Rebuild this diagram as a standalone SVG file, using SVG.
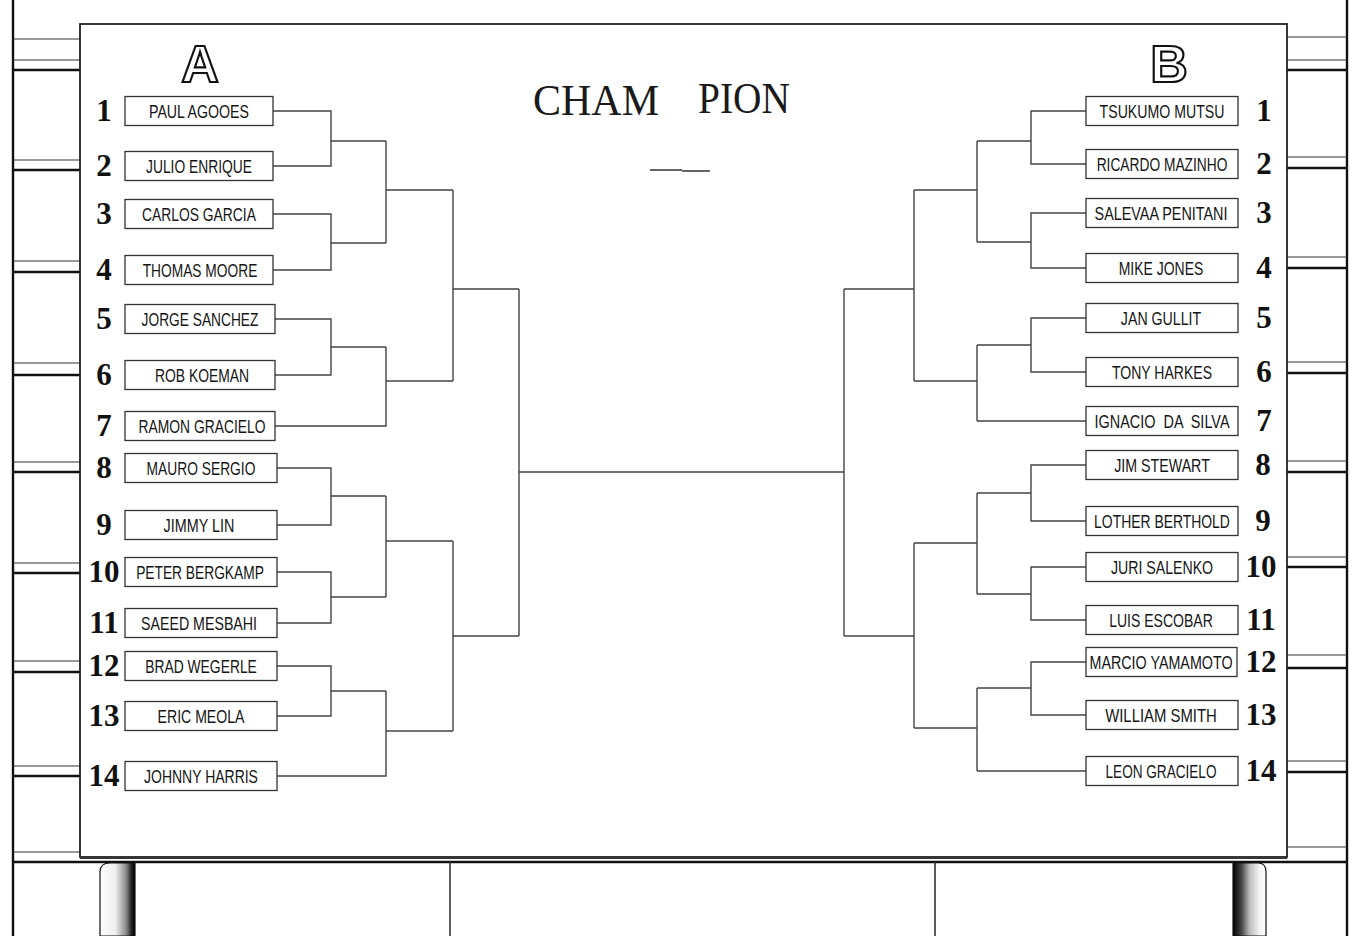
<svg xmlns="http://www.w3.org/2000/svg" width="1353" height="936" viewBox="0 0 1353 936">
<style>
.box{fill:#fff;stroke:#333;stroke-width:1.3}
.nm{font-family:"Liberation Sans",Arial,sans-serif;font-size:19px;fill:#151515;text-anchor:middle}
.num{font-family:"Liberation Serif","Times New Roman",serif;font-weight:bold;font-size:31px;fill:#111;text-anchor:middle}
.ln{stroke:#444;stroke-width:1.4;fill:none}
.thin{stroke:#333;stroke-width:1.2}
.thick{stroke:#111;stroke-width:2.6}
.frame{stroke:#111;stroke-width:2.4;fill:none}
.big{font-family:"Liberation Sans",Arial,sans-serif;font-weight:bold;font-size:52px;fill:#fff;stroke:#111;stroke-width:2.2;text-anchor:middle}
.title{font-family:"Liberation Serif","Times New Roman",serif;font-size:44px;fill:#1a1a1a}
</style>
<defs>
<linearGradient id="legL" x1="0" y1="0" x2="1" y2="0">
<stop offset="0" stop-color="#fff"/><stop offset="0.45" stop-color="#eee"/><stop offset="0.75" stop-color="#888"/><stop offset="0.9" stop-color="#222"/><stop offset="1" stop-color="#000"/>
</linearGradient>
<linearGradient id="legR" x1="0" y1="0" x2="1" y2="0">
<stop offset="0" stop-color="#000"/><stop offset="0.25" stop-color="#444"/><stop offset="0.5" stop-color="#bbb"/><stop offset="0.8" stop-color="#f4f4f4"/><stop offset="1" stop-color="#fff"/>
</linearGradient>
</defs>
<rect x="0" y="0" width="1353" height="936" fill="#fff"/>
<g id="scene">
<line class="frame" x1="13" y1="0" x2="13" y2="936"/>
<line class="frame" x1="1347" y1="0" x2="1347" y2="936"/>
<g id="rails-left">
<line class="thin" x1="13" y1="39" x2="80" y2="39"/>
<line class="thin" x1="13" y1="60" x2="80" y2="60"/><line class="thick" x1="13" y1="70" x2="80" y2="70"/>
<line class="thin" x1="13" y1="160" x2="80" y2="160"/><line class="thick" x1="13" y1="170" x2="80" y2="170"/>
<line class="thin" x1="13" y1="261" x2="80" y2="261"/><line class="thick" x1="13" y1="272" x2="80" y2="272"/>
<line class="thin" x1="13" y1="363" x2="80" y2="363"/><line class="thick" x1="13" y1="375" x2="80" y2="375"/>
<line class="thin" x1="13" y1="462" x2="80" y2="462"/><line class="thick" x1="13" y1="472" x2="80" y2="472"/>
<line class="thin" x1="13" y1="563" x2="80" y2="563"/><line class="thick" x1="13" y1="573" x2="80" y2="573"/>
<line class="thin" x1="13" y1="661" x2="80" y2="661"/><line class="thick" x1="13" y1="672" x2="80" y2="672"/>
<line class="thin" x1="13" y1="766" x2="80" y2="766"/><line class="thick" x1="13" y1="776" x2="80" y2="776"/>
<line class="thin" x1="13" y1="852" x2="80" y2="852"/>
</g>
<g id="rails-right">
<line class="thin" x1="1287" y1="37" x2="1347" y2="37"/>
<line class="thin" x1="1287" y1="60" x2="1347" y2="60"/><line class="thick" x1="1287" y1="70" x2="1347" y2="70"/>
<line class="thin" x1="1287" y1="157" x2="1347" y2="157"/><line class="thick" x1="1287" y1="168" x2="1347" y2="168"/>
<line class="thin" x1="1287" y1="257" x2="1347" y2="257"/><line class="thick" x1="1287" y1="268" x2="1347" y2="268"/>
<line class="thin" x1="1287" y1="362" x2="1347" y2="362"/><line class="thick" x1="1287" y1="373" x2="1347" y2="373"/>
<line class="thin" x1="1287" y1="461" x2="1347" y2="461"/><line class="thick" x1="1287" y1="472" x2="1347" y2="472"/>
<line class="thin" x1="1287" y1="557" x2="1347" y2="557"/><line class="thick" x1="1287" y1="567" x2="1347" y2="567"/>
<line class="thin" x1="1287" y1="655" x2="1347" y2="655"/><line class="thick" x1="1287" y1="668" x2="1347" y2="668"/>
<line class="thin" x1="1287" y1="761" x2="1347" y2="761"/><line class="thick" x1="1287" y1="772" x2="1347" y2="772"/>
<line class="thin" x1="1287" y1="847" x2="1347" y2="847"/>
</g>
<line class="thick" x1="13" y1="862" x2="1347" y2="862"/>
<line class="thin" x1="450" y1="862" x2="450" y2="936" style="stroke-width:1.6"/>
<line class="thin" x1="935" y1="862" x2="935" y2="936" style="stroke-width:1.6"/>
<g id="leg-left">
<path d="M100,936 V872 Q100,863 110,863 H135 V936 Z" fill="url(#legL)" stroke="#111" stroke-width="1.2"/>
</g>
<g id="leg-right">
<path d="M1233,936 V863 H1258 Q1266,863 1266,872 V936 Z" fill="url(#legR)" stroke="#111" stroke-width="1.2"/>
</g>
<g id="board">
<rect x="80" y="24" width="1207" height="833" fill="#fff" stroke="#222" stroke-width="1.8"/>
<line x1="80" y1="858.5" x2="1287" y2="858.5" stroke="#333" stroke-width="1.2"/>
</g>
</g>
<g id="headers">
<text class="big" x="200" y="82">A</text>
<text class="big" x="1169" y="82">B</text>
<g id="champion">
<text class="title" x="533" y="115" textLength="126" lengthAdjust="spacingAndGlyphs">CHAM</text>
<text class="title" x="698" y="113" textLength="92" lengthAdjust="spacingAndGlyphs">PION</text>
<path d="M650,170 H682 M682,171 H710" stroke="#333" stroke-width="1.5" fill="none"/>
</g>
</g>
<g id="connectors" class="ln">
<path d="M273,111 H331 V166 H273 M331,141 H386"/>
<path d="M273,214 H331 V270 H273 M331,243 H386"/>
<path d="M386,141 V243 M386,190 H453"/>
<path d="M275,319 H331 V375 H275 M331,347 H386"/>
<path d="M275,426 H386 V347 M386,381 H453"/>
<path d="M453,190 V381 M453,289 H519"/>
<path d="M277,468 H331 V525 H277 M331,496 H386"/>
<path d="M277,572 H331 V623 H277 M331,597 H386"/>
<path d="M386,496 V597 M386,541 H453"/>
<path d="M277,666 H331 V716 H277 M331,691 H386"/>
<path d="M277,776 H386 V691 M386,731 H453"/>
<path d="M453,541 V731 M453,636 H519"/>
<path d="M519,289 V636 M519,472 H844 M844,289 V636"/>
<path d="M844,289 H914 M914,190 V381 M844,636 H914 M914,543 V728"/>
<path d="M914,190 H977 M977,141 V242 M914,381 H977 M977,345 V421 M914,543 H977 M977,493 V594 M914,728 H977 M977,688 V771"/>
<path d="M977,141 H1031 M1086,111 H1031 V164 H1086 M977,242 H1031 M1086,213 H1031 V268 H1086"/>
<path d="M977,345 H1031 M1086,318 H1031 V372 H1086 M977,421 H1086"/>
<path d="M977,493 H1031 M1086,465 H1031 V521 H1086 M977,594 H1031 M1086,567 H1031 V620 H1086"/>
<path d="M977,688 H1031 M1086,662 H1031 V715 H1086 M977,771 H1086"/>
</g>
<g id="team-A">
<g id="a1"><text class="num" x="104" y="121">1</text><rect class="box" x="125" y="96.5" width="148" height="29"/><text class="nm" transform="matrix(0.73 0 0 1 199 118)" textLength="137" lengthAdjust="spacingAndGlyphs">PAUL AGOOES</text></g>
<g id="a2"><text class="num" x="104" y="176">2</text><rect class="box" x="125" y="151.5" width="148" height="29"/><text class="nm" transform="matrix(0.73 0 0 1 199 173)" textLength="145" lengthAdjust="spacingAndGlyphs">JULIO ENRIQUE</text></g>
<g id="a3"><text class="num" x="104" y="224">3</text><rect class="box" x="125" y="199.5" width="148" height="29"/><text class="nm" transform="matrix(0.73 0 0 1 199 221)" textLength="156" lengthAdjust="spacingAndGlyphs">CARLOS GARCIA</text></g>
<g id="a4"><text class="num" x="104" y="280">4</text><rect class="box" x="125" y="255.5" width="148" height="29"/><text class="nm" transform="matrix(0.73 0 0 1 200 277)" textLength="157" lengthAdjust="spacingAndGlyphs">THOMAS MOORE</text></g>
<g id="a5"><text class="num" x="104" y="329">5</text><rect class="box" x="125" y="304.5" width="150" height="29"/><text class="nm" transform="matrix(0.73 0 0 1 200 326)" textLength="160" lengthAdjust="spacingAndGlyphs">JORGE SANCHEZ</text></g>
<g id="a6"><text class="num" x="104" y="385">6</text><rect class="box" x="125" y="360.5" width="150" height="29"/><text class="nm" transform="matrix(0.73 0 0 1 202 382)" textLength="129" lengthAdjust="spacingAndGlyphs">ROB KOEMAN</text></g>
<g id="a7"><text class="num" x="104" y="436">7</text><rect class="box" x="125" y="411.5" width="150" height="29"/><text class="nm" transform="matrix(0.73 0 0 1 202 433)" textLength="174" lengthAdjust="spacingAndGlyphs">RAMON GRACIELO</text></g>
<g id="a8"><text class="num" x="104" y="478">8</text><rect class="box" x="125" y="453.5" width="152" height="29"/><text class="nm" transform="matrix(0.73 0 0 1 201 475)" textLength="149" lengthAdjust="spacingAndGlyphs">MAURO SERGIO</text></g>
<g id="a9"><text class="num" x="104" y="535">9</text><rect class="box" x="125" y="510.5" width="152" height="29"/><text class="nm" transform="matrix(0.73 0 0 1 199 532)" textLength="97" lengthAdjust="spacingAndGlyphs">JIMMY LIN</text></g>
<g id="a10"><text class="num" x="104" y="582">10</text><rect class="box" x="125" y="557.5" width="152" height="29"/><text class="nm" transform="matrix(0.73 0 0 1 200 579)" textLength="175" lengthAdjust="spacingAndGlyphs">PETER BERGKAMP</text></g>
<g id="a11"><text class="num" x="104" y="633">11</text><rect class="box" x="125" y="608.5" width="152" height="29"/><text class="nm" transform="matrix(0.73 0 0 1 199 630)" textLength="159" lengthAdjust="spacingAndGlyphs">SAEED MESBAHI</text></g>
<g id="a12"><text class="num" x="104" y="676">12</text><rect class="box" x="125" y="651.5" width="152" height="29"/><text class="nm" transform="matrix(0.73 0 0 1 201 673)" textLength="153" lengthAdjust="spacingAndGlyphs">BRAD WEGERLE</text></g>
<g id="a13"><text class="num" x="104" y="726">13</text><rect class="box" x="125" y="701.5" width="152" height="29"/><text class="nm" transform="matrix(0.73 0 0 1 201 723)" textLength="119" lengthAdjust="spacingAndGlyphs">ERIC MEOLA</text></g>
<g id="a14"><text class="num" x="104" y="786">14</text><rect class="box" x="125" y="761.5" width="152" height="29"/><text class="nm" transform="matrix(0.73 0 0 1 201 783)" textLength="156" lengthAdjust="spacingAndGlyphs">JOHNNY HARRIS</text></g>
</g>
<g id="team-B">
<g id="b1"><rect class="box" x="1086" y="96.5" width="152" height="29"/><text class="nm" transform="matrix(0.73 0 0 1 1162 118)" textLength="171" lengthAdjust="spacingAndGlyphs">TSUKUMO MUTSU</text><text class="num" x="1264" y="121">1</text></g>
<g id="b2"><rect class="box" x="1086" y="149.5" width="152" height="29"/><text class="nm" transform="matrix(0.73 0 0 1 1162 171)" textLength="179" lengthAdjust="spacingAndGlyphs">RICARDO MAZINHO</text><text class="num" x="1264" y="174">2</text></g>
<g id="b3"><rect class="box" x="1086" y="198.5" width="152" height="29"/><text class="nm" transform="matrix(0.73 0 0 1 1161 220)" textLength="182" lengthAdjust="spacingAndGlyphs">SALEVAA PENITANI</text><text class="num" x="1264" y="223">3</text></g>
<g id="b4"><rect class="box" x="1086" y="253.5" width="152" height="29"/><text class="nm" transform="matrix(0.73 0 0 1 1161 275)" textLength="116" lengthAdjust="spacingAndGlyphs">MIKE JONES</text><text class="num" x="1264" y="278">4</text></g>
<g id="b5"><rect class="box" x="1086" y="303.5" width="152" height="29"/><text class="nm" transform="matrix(0.73 0 0 1 1161 325)" textLength="110" lengthAdjust="spacingAndGlyphs">JAN GULLIT</text><text class="num" x="1264" y="328">5</text></g>
<g id="b6"><rect class="box" x="1086" y="357.5" width="152" height="29"/><text class="nm" transform="matrix(0.73 0 0 1 1162 379)" textLength="137" lengthAdjust="spacingAndGlyphs">TONY HARKES</text><text class="num" x="1264" y="382">6</text></g>
<g id="b7"><rect class="box" x="1086" y="406.5" width="152" height="29"/><text class="nm" transform="matrix(0.73 0 0 1 1162 428)" textLength="185" lengthAdjust="spacingAndGlyphs" xml:space="preserve">IGNACIO  DA  SILVA</text><text class="num" x="1264" y="431">7</text></g>
<g id="b8"><rect class="box" x="1086" y="450.5" width="152" height="29"/><text class="nm" transform="matrix(0.73 0 0 1 1162 472)" textLength="131" lengthAdjust="spacingAndGlyphs">JIM STEWART</text><text class="num" x="1263" y="475">8</text></g>
<g id="b9"><rect class="box" x="1086" y="506.5" width="152" height="29"/><text class="nm" transform="matrix(0.73 0 0 1 1162 528)" textLength="186" lengthAdjust="spacingAndGlyphs">LOTHER BERTHOLD</text><text class="num" x="1263" y="531">9</text></g>
<g id="b10"><rect class="box" x="1086" y="552.5" width="152" height="29"/><text class="nm" transform="matrix(0.73 0 0 1 1162 574)" textLength="140" lengthAdjust="spacingAndGlyphs">JURI SALENKO</text><text class="num" x="1261" y="577">10</text></g>
<g id="b11"><rect class="box" x="1086" y="605.5" width="152" height="29"/><text class="nm" transform="matrix(0.73 0 0 1 1161 627)" textLength="142" lengthAdjust="spacingAndGlyphs">LUIS ESCOBAR</text><text class="num" x="1261" y="630">11</text></g>
<g id="b12"><rect class="box" x="1086" y="647.5" width="151" height="29"/><text class="nm" transform="matrix(0.73 0 0 1 1161 669)" textLength="196" lengthAdjust="spacingAndGlyphs">MARCIO YAMAMOTO</text><text class="num" x="1261" y="672">12</text></g>
<g id="b13"><rect class="box" x="1086" y="700.5" width="152" height="29"/><text class="nm" transform="matrix(0.73 0 0 1 1161 722)" textLength="153" lengthAdjust="spacingAndGlyphs">WILLIAM SMITH</text><text class="num" x="1261" y="725">13</text></g>
<g id="b14"><rect class="box" x="1086" y="756.5" width="152" height="29"/><text class="nm" transform="matrix(0.73 0 0 1 1161 778)" textLength="152" lengthAdjust="spacingAndGlyphs">LEON GRACIELO</text><text class="num" x="1261" y="781">14</text></g>
</g>
</svg>
